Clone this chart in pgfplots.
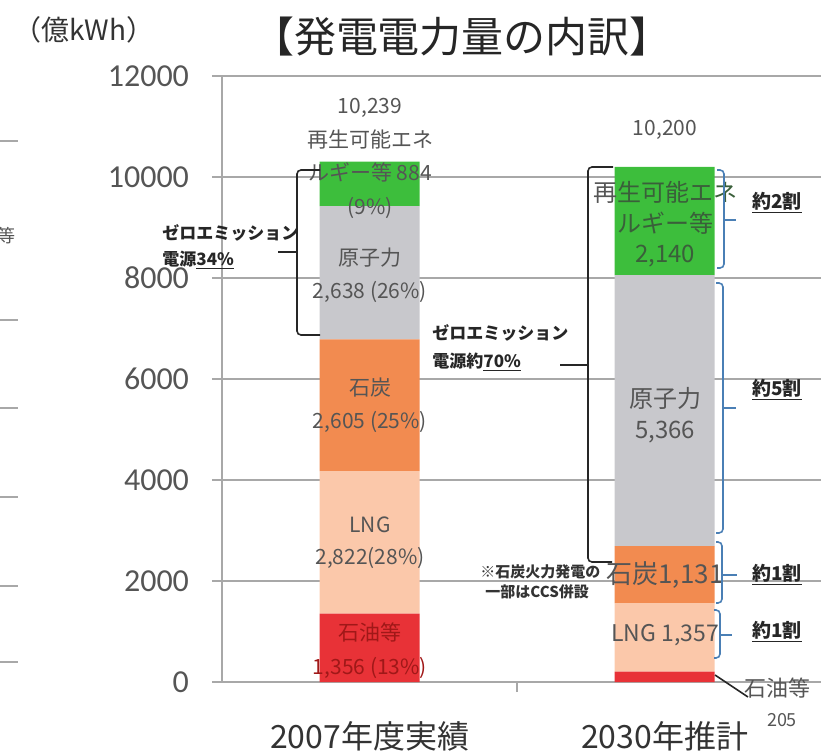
\documentclass[border=0pt]{standalone}
\usepackage{fontspec}
\setmainfont{Noto Sans CJK JP}
\newfontfamily\carl{Carlito}
\usepackage{pgfplots}
\pgfplotsset{compat=1.18}
\usepackage{pgfplotstable}
\definecolor{cOil}{HTML}{E83237}
\definecolor{cLNG}{HTML}{FBC8AA}
\definecolor{cCoal}{HTML}{F28B50}
\definecolor{cNuc}{HTML}{C8C8CC}
\definecolor{cRen}{HTML}{3DBE3C}
\definecolor{tGray}{HTML}{555555}
\definecolor{tDark}{HTML}{333333}
\definecolor{tRed}{HTML}{A01818}
\definecolor{tGreen}{HTML}{3A5F3A}
\definecolor{bBlue}{HTML}{4A7FB5}
\definecolor{gridc}{HTML}{A8A8A8}
\pgfplotstableread{
x oil lng coal nuc ren
0 1356 2822 2605 2638 884
1 205 1357 1131 5366 2140
}\mydata
\begin{document}
\begin{tikzpicture}[x=1pt,y=1pt]
\useasboundingbox (0,0) rectangle (410.5,376);
\begin{axis}[
  at={(111pt,35pt)}, anchor=south west, scale only axis,
  width=299.5pt, height=303pt,
  ybar stacked, bar width=50pt,
  xmin=-0.5, xmax=1.53, ymin=0, ymax=12000,
  axis x line*=bottom, axis y line*=left,
  axis line style={draw=gridc, line width=0.8pt},
  ytick={0,2000,...,12000},
  ymajorgrids, grid style={draw=gridc, line width=0.7pt},
  yticklabel style={font=\carl\fontsize{16}{18}\selectfont, text=tGray, xshift=-8pt},
  /pgf/number format/assume math mode=true,
  scaled y ticks=false,
  y tick label style={/pgf/number format/1000 sep={}},
  ytick style={draw=gridc, line width=0.7pt},
  tick align=outside, major tick length=5pt,
  xtick={0.5}, xticklabels={},
  xtick style={draw=gridc, line width=0.7pt},
  extra x ticks={0,1},
  extra x tick labels={2007年度実績,2030年推計},
  extra x tick style={major tick length=0pt, grid=none,
     xticklabel style={font=\fontsize{16}{18}\selectfont, text=tDark, yshift=-16pt}},
  clip=false,
]
\addplot[fill=cOil, draw=none] table[x=x,y=oil]{\mydata};
\addplot[fill=cLNG, draw=none] table[x=x,y=lng]{\mydata};
\addplot[fill=cCoal, draw=none] table[x=x,y=coal]{\mydata};
\addplot[fill=cNuc, draw=none] table[x=x,y=nuc]{\mydata};
\addplot[fill=cRen, draw=none] table[x=x,y=ren]{\mydata};
\end{axis}
\begin{scope}[x=0.5pt, y=-0.5pt, yshift=376pt]
% fragments of neighbouring chart
\foreach \yy in {141,320,408,497,586,662} \draw[gridc, line width=0.7pt] (0,\yy) -- (18,\yy);
\node[font=\fontsize{9}{10}\selectfont, text=tGray] at (6,236) {等};
% titles
\node[font=\fontsize{14}{16}\selectfont, text=tDark] at (84,30) {（億kWh）};
\node[font=\fontsize{21}{24}\selectfont, text=black!85] at (462,37) {【発電電力量の内訳】};
% 2007 labels
\begin{scope}[every node/.style={font=\fontsize{10.5}{12}\selectfont, text=tGray}]
\node at (370,108) {10,239};
\node at (370,140) {再生可能エネ};
\node at (370,172) {ルギー等 884};
\node at (370,208) {(9\%)};
\node at (370,258) {原子力};
\node at (370,292) {2,638 (26\%)};
\node at (370,388) {石炭};
\node at (370,422) {2,605 (25\%)};
\node at (370,525) {LNG};
\node at (370,558) {2,822(28\%)};
\node[text=tRed] at (370,632) {石油等};
\node[text=tRed] at (370,668) {1,356 (13\%)};
\node at (665,130) {10,200};
\end{scope}
% 2030 labels
\begin{scope}[every node/.style={font=\fontsize{12}{14}\selectfont, text=tGreen}]
\node at (665,192) {\textcolor{tGray}{再}生可能エネ};
\node at (665,223) {ルギー等};
\node at (665,256) {2,140};
\node[text=tGray] at (665,398) {原子力};
\node[text=tGray] at (665,432) {5,366};
\end{scope}
\node[font=\fontsize{13}{15}\selectfont, text=tGray] at (665,575) {石炭1,131};
\node[font=\fontsize{11.5}{13}\selectfont, text=tGray] at (665,635) {LNG 1,357};
\node[font=\fontsize{11}{13}\selectfont, text=tGray] at (777,688) {石油等};
\node[font=\fontsize{9}{11}\selectfont, text=tGray] at (782,720) {205};
\draw[black!85, line width=0.8pt] (715,675) -- (748,697);
% black braces
\draw[black!85, line width=0.8pt, rounded corners=2pt] (320,170) -- (297,170) -- (297,335) -- (320,335);
\draw[black!85, line width=0.8pt] (278,252) -- (297,252);
\draw[black!85, line width=0.8pt, rounded corners=2pt] (613,167) -- (588,167) -- (588,562) -- (612,562);
\draw[black!85, line width=0.8pt] (560,365) -- (588,365);
% blue braces
\begin{scope}[bBlue, line width=0.8pt]
\draw[rounded corners=2pt] (717,170) -- (724,170) -- (724,268) -- (717,268);
\draw (724,220) -- (736,220);
\draw[rounded corners=2pt] (716,283) -- (723,283) -- (723,533) -- (716,533);
\draw (723,408) -- (736,408);
\draw[rounded corners=2pt] (716,542) -- (722,542) -- (722,603) -- (716,603);
\draw (722,575) -- (737,575);
\draw[rounded corners=2pt] (714,610) -- (720,610) -- (720,658) -- (714,658);
\draw (720,635) -- (732,635);
\end{scope}
% share labels
\begin{scope}[every node/.style={font=\fontsize{9.5}{11}\selectfont\bfseries, text=black!85, anchor=west, inner sep=0pt}]
\node at (752,203) {\underline{約2割}};
\node at (752,390) {\underline{約5割}};
\node at (752,575) {\underline{約1割}};
\node at (752,632) {\underline{約1割}};
\end{scope}
% zero emission texts
\begin{scope}[every node/.style={font=\fontsize{8.5}{10}\selectfont\bfseries, text=black!85, anchor=west, inner sep=0pt}]
\node at (162,233) {ゼロエミッション};
\node at (162,260) {電源\underline{34\%}};
\node at (432,333) {ゼロエミッション};
\node at (432,362) {電源約\underline{70\%}};
\end{scope}
\begin{scope}[every node/.style={font=\fontsize{7.5}{9}\selectfont\bfseries, text=black!80, anchor=west, inner sep=0pt}]
\node at (480,572) {※石炭火力発電の};
\node at (485,592) {一部はCCS併設};
\end{scope}
\end{scope}
\end{tikzpicture}
\end{document}
